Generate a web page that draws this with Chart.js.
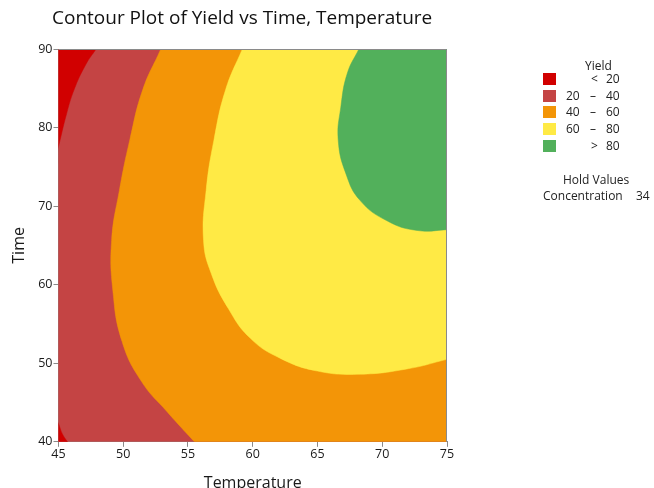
<!DOCTYPE html>
<html>
<head>
<meta charset="utf-8">
<script src="https://cdn.jsdelivr.net/npm/chart.js@4/dist/chart.umd.min.js"></script>
<style>
  body { margin: 0; background: #fff; }
  #wrap { position: relative; width: 654px; height: 488px; overflow: hidden; font-family: 'Open Sans', sans-serif; color: #222; }
  #myChart { position: absolute; left: 0; top: 0; }
  .abs { position: absolute; white-space: nowrap; }
  #title { left: 52px; top: 4px; font-size: 19px; color: #111; }
  .sw { position: absolute; width: 13px; height: 12px; }
  .lg { font-size: 12px; }
</style>
</head>
<body>
<div id="wrap">
  <canvas id="myChart" width="654" height="488"></canvas>
  <div id="title" class="abs">Contour Plot of Yield vs Time, Temperature</div>
  <div id="legend"></div>
</div>
<script>
// axis limits and ticks
let tempRange = [45, 75]
let timeRange = [40, 90]
let tempTicks = [45, 50, 55, 60, 65, 70, 75]
let timeTicks = [40, 50, 60, 70, 80, 90]

// contour boundaries, as [Temperature, Time]
// first and last points sit just past the frame so the curve leaves it cleanly
let line20Top = [[49.1, 93], [47.9, 90], [47.1, 88], [46.2, 84.8], [45.6, 81.6], [45, 77.6], [44.5, 74.5]]
let line20Bottom = [[44.4, 44.5], [45, 42.3], [45.3, 41.0], [45.7, 40], [46.2, 39]]
let line40 = [[53.4, 92], [52.9, 90], [51.5, 84.8], [50.5, 78.4], [49.7, 72], [49.1, 65.6], [49.2, 59.2],
  [49.9, 52.8], [51.4, 47.7], [53.4, 43.8], [55.5, 40], [57.2, 37]]
let line60 = [[60.0, 93], [59.2, 90], [57.9, 84.8], [57.0, 78.4], [56.4, 72], [56.2, 65.6], [56.8, 61.4],
  [58.1, 57.0], [59.8, 53.2], [62.1, 50.65], [65.0, 49.0], [68.3, 48.6], [72.0, 49.3], [75, 50.5], [78, 51.7]]
let line80 = [[69.1, 93], [68.2, 90], [67.3, 86.9], [66.8, 82.6], [66.6, 78.4], [67.2, 74.1], [68.3, 70.7],
  [70.4, 68.1], [72.7, 66.9], [75, 67.0], [78, 67.3]]

let levelLabels = ['< 20', '20 – 40', '40 – 60', '60 – 80', '> 80']
let levelColors = ['#D10000', '#C44444', '#F39507', '#FFEA45', '#52B05B']
let holdName = 'Concentration'
let holdValue = 34

const xy = arr => arr.map(p => ({ x: p[0], y: p[1] }))
const tMin = tempRange[0], tMax = tempRange[1], hMin = timeRange[0], hMax = timeRange[1]
const first = arr => arr[0]

// regions: each one is a closed outline filled as a shape, later ones on top
// the closing corners lie outside the frame and get clipped away
let regions = [
  { c: 1, t: 0, pts: [[tMin, hMin], [tMax, hMin], [tMax, hMax], [tMin, hMax], [tMin, hMin]] },
  { c: 2, t: 0.45, pts: line40.concat([[85, 35], [85, 96], [first(line40)[0], 96], first(line40)]) },
  { c: 3, t: 0.45, pts: line60.concat([[85, 52], [85, 96], [first(line60)[0], 96], first(line60)]) },
  { c: 4, t: 0.45, pts: line80.concat([[85, 67.5], [85, 96], [first(line80)[0], 96], first(line80)]) },
  { c: 0, t: 0.45, pts: line20Top.concat([[38, 74], [38, 96], [first(line20Top)[0], 96], first(line20Top)]) },
  { c: 0, t: 0.45, pts: line20Bottom.concat([[46.5, 34], [38, 34], [38, 44.5], first(line20Bottom)]) }
]

const datasets = regions.map((r, i) => ({
  data: xy(r.pts),
  showLine: true,
  fill: 'shape',
  backgroundColor: levelColors[r.c],
  borderColor: levelColors[r.c],
  borderWidth: 0.5,
  pointRadius: 0,
  tension: r.t,
  capBezierPoints: false,
  order: regions.length - i
}))

const frame = {
  id: 'frame',
  afterDraw(chart) {
    const { ctx, chartArea: a } = chart
    ctx.save()
    ctx.strokeStyle = '#8a8a8a'
    ctx.lineWidth = 1
    ctx.beginPath()
    ctx.moveTo(a.left, a.top + 0.5)
    ctx.lineTo(a.right - 0.5, a.top + 0.5)
    ctx.lineTo(a.right - 0.5, a.bottom)
    ctx.stroke()
    ctx.restore()
  }
}

const tickFont = { family: "'Open Sans', sans-serif", size: 12.5 }
const ctx = document.getElementById('myChart').getContext('2d')
const myChart = new Chart(ctx, {
  type: 'scatter',
  data: { datasets: datasets },
  options: {
    responsive: false,
    animation: false,
    layout: { padding: { left: 10, top: 49, right: 207, bottom: -5 } },
    plugins: { legend: { display: false }, tooltip: { enabled: false } },
    scales: {
      x: {
        min: tMin, max: tMax,
        afterBuildTicks: s => { s.ticks = tempTicks.map(v => ({ value: v })) },
        ticks: { font: tickFont, color: '#1a1a1a', padding: 0, maxRotation: 0 },
        grid: { drawOnChartArea: false, tickLength: 5, color: '#8a8a8a' },
        border: { color: '#8a8a8a' },
        title: { display: true, text: 'Temperature', font: { family: "'Open Sans', sans-serif", size: 16 }, color: '#1a1a1a', padding: { top: 12, bottom: 0 } }
      },
      y: {
        min: hMin, max: hMax,
        afterBuildTicks: s => { s.ticks = timeTicks.map(v => ({ value: v })) },
        ticks: { font: tickFont, color: '#1a1a1a', padding: 1 },
        grid: { drawOnChartArea: false, tickLength: 5, color: '#8a8a8a' },
        border: { color: '#8a8a8a' },
        title: { display: true, text: 'Time', font: { family: "'Open Sans', sans-serif", size: 16 }, color: '#1a1a1a', padding: { top: 0, bottom: 8 } }
      }
    }
  },
  plugins: [frame]
})

// legend on the right
const legend = document.getElementById('legend')
let html = '<div class="abs lg" style="left:585px;top:57px">Yield</div>'
levelLabels.forEach((lab, i) => {
  const top = 73 + i * 16.7
  const parts = lab.split(' ')
  html += `<div class="sw" style="left:543px;top:${top}px;background:${levelColors[i]}"></div>`
  if (parts.length === 2) {
    html += `<div class="abs lg" style="left:591px;top:${top - 3}px">${parts[0]}</div>`
    html += `<div class="abs lg" style="left:606px;top:${top - 3}px">${parts[1]}</div>`
  } else {
    html += `<div class="abs lg" style="left:566px;top:${top - 3}px">${parts[0]}</div>`
    html += `<div class="abs lg" style="left:590px;top:${top - 3}px">${parts[1]}</div>`
    html += `<div class="abs lg" style="left:606px;top:${top - 3}px">${parts[2]}</div>`
  }
})
html += '<div class="abs lg" style="left:563px;top:171px">Hold Values</div>'
html += `<div class="abs lg" style="left:543px;top:187px">${holdName}</div>`
html += `<div class="abs lg" style="left:636px;top:187px">${holdValue}</div>`
legend.innerHTML = html
</script>
</body>
</html>
